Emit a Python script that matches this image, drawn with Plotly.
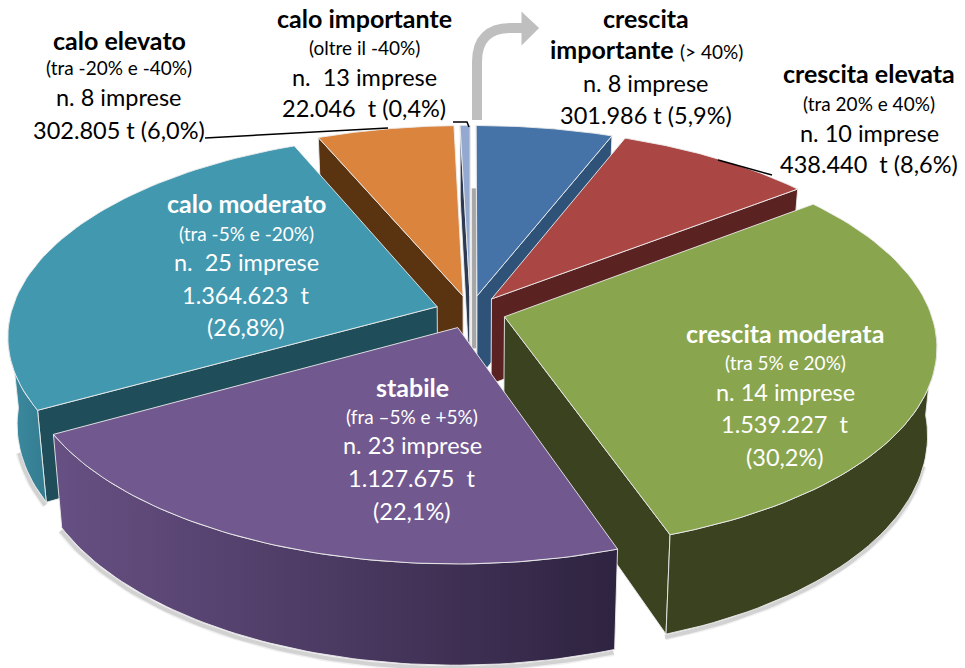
import numpy as np
import plotly.graph_objects as go

# Data (tonnes), clockwise from 12 o'clock
categories = ["crescita importante", "crescita elevata", "crescita moderata", "stabile",
              "calo moderato", "calo elevato", "calo importante"]
tonnes = [301986, 438440, 1539227, 1127675, 1364623, 302805, 22046]
label_lines = [
    ["<b>crescita</b>", "<b>importante</b> <span style='font-size:19px'>(&gt; 40%)</span>", "n. 8 imprese", "301.986 t (5,9%)"],
    ["<b>crescita elevata</b>", "(tra 20% e 40%)", "n. 10 imprese", "438.440  t (8,6%)"],
    ["<b>crescita moderata</b>", "(tra 5% e 20%)", "n. 14 imprese", "1.539.227  t", "(30,2%)"],
    ["<b>stabile</b>", "(fra –5% e +5%)", "n. 23 imprese", "1.127.675  t", "(22,1%)"],
    ["<b>calo moderato</b>", "(tra -5% e -20%)", "n.  25 imprese", "1.364.623  t", "(26,8%)"],
    ["<b>calo elevato</b>", "(tra -20% e -40%)", "n. 8 imprese", "302.805 t (6,0%)"],
    ["<b>calo importante</b>", "(oltre il -40%)", "n.  13 imprese", "22.046  t (0,4%)"],
]
top_colors = ["#4573a7", "#aa4644", "#89a54e", "#71588f", "#4198af", "#db843d", "#93a9cf"]
wall_colors = ["#2f5378", "#5a2321", "#3a4220", "#3b2c55", "#1f4d5a", "#5a3311", "#2d3a52"]
rim_colors = {2: ("#3a4220", "#3a4220"), 3: ("#675083", "#2e2340"), 4: ("#3c8ba1", "#347c90")}
text_colors = ["black", "black", "white", "white", "white", "black", "black"]
paint_order = [5, 6, 0, 1, 4, 2, 3]

# label placement: centre x and the y of each text line
label_x = [646, 869, 785, 412, 246, 119, 364]
label_y = [[18, 49, 83, 115], [73, 103, 133, 164], [333, 362, 392, 424, 457], [387, 416, 445, 478, 511],
           [203, 233, 262, 295, 327], [40, 67, 97, 130], [18, 47, 77, 108]]
BOLD, REG, SMALL = 25, 23.5, 19

# projection of the tilted disc
CX, CY, A, B, K, H, PULL = 470.5, 312, 426, 0.466, 0.14, 86, 0.083

def proj(u, v, z=0.0):
    u, v, z = np.asarray(u, float), np.asarray(v, float), np.asarray(z, float)
    s = 1 / (1 - K * v)
    return CX + A * u * s * (1 - 0.02 * z), CY + A * B * v * s + H * z * s

def poly(xs, ys, color=None, grad=None, line="rgba(235,235,235,0.9)", lw=1):
    kw = dict(fillgradient=dict(type="horizontal", colorscale=[[0, grad[0]], [1, grad[1]]])) if grad else dict(fillcolor=color)
    return go.Scatter(x=list(xs) + [xs[0]], y=list(ys) + [ys[0]], mode="lines", fill="toself",
                      line=dict(color=line, width=lw), hoverinfo="skip", showlegend=False, **kw)

fracs = np.cumsum([0] + tonnes) / sum(tonnes)
fig = go.Figure()

# soft shadow under the front rims
for i in [4, 3, 2]:
    t = np.linspace(fracs[i], fracs[i + 1], 70) * 2 * np.pi
    t = t[-np.cos(t) > 0.25]
    m = (fracs[i] + fracs[i + 1]) * np.pi
    ou, ov = PULL * np.sin(m), -PULL * np.cos(m)
    sx, sy = proj(ou + np.sin(t), ov - np.cos(t), 1.0)
    for w, al in [(7, 0.06), (4, 0.12)]:
        fig.add_trace(go.Scatter(x=sx - 1, y=sy + 3, mode="lines", line=dict(color=f"rgba(0,0,0,{al})", width=w),
                                 hoverinfo="skip", showlegend=False))

for i in paint_order:
    t0, t1 = fracs[i] * 2 * np.pi, fracs[i + 1] * 2 * np.pi
    m = (t0 + t1) / 2
    ou, ov = PULL * np.sin(m), -PULL * np.cos(m)
    t = np.linspace(t0, t1, 70)
    au, av = ou + np.sin(t), ov - np.cos(t)
    tx, ty = proj(au, av)
    ax, ay = proj(ou, ov)
    cx_, cy_ = (tx.mean() * 2 + ax) / 3, (ty.mean() * 2 + ay) / 3
    # radial walls
    for idx in (0, -1):
        ex, ey = tx[idx], ty[idx]
        cr = (ex - ax) * (cy_ - ay) - (ey - ay) * (cx_ - ax)
        visible = cr * (ex - ax) < 0
        if visible or i == 6:
            bx, by = proj(au[idx], av[idx], 1.0)
            b0x, b0y = proj(ou, ov, 1.0)
            fig.add_trace(poly([ax, ex, bx, b0x], [ay, ey, by, b0y], color=wall_colors[i]))
    if i == 6:
        # grey end wall of the thinnest slice, seen edge-on
        gx, gy = proj([0.003, 0.0165, 0.0155, 0.003], [ov - 0.6, ov - 0.6, ov, ov], [0, 0, 0.62, 0.62])
        fig.add_trace(poly(gx, gy, color="#a6a6a6", line="rgba(255,255,255,0.5)", lw=0.5))
    # outer rim
    mask = -np.cos(t) > 0.05
    if mask.sum() > 1:
        rx, ry = tx[mask], ty[mask]
        bx, by = proj(au[mask], av[mask], 1.0)
        g = rim_colors.get(i, (wall_colors[i], wall_colors[i]))
        fig.add_trace(poly(list(rx) + list(bx[::-1]), list(ry) + list(by[::-1]), grad=g))
    # top face
    fig.add_trace(poly([ax] + list(tx), [ay] + list(ty), color=top_colors[i]))

# leader lines
for xs, ys in [([205, 388], [138, 128]), ([453, 467, 469], [122, 122, 127]), ([718, 772], [160, 175])]:
    fig.add_trace(go.Scatter(x=xs, y=ys, mode="lines", line=dict(color="black", width=1.5),
                             hoverinfo="skip", showlegend=False))

for lines, x, ys, c in zip(label_lines, label_x, label_y, text_colors):
    for j, (txt, y) in enumerate(zip(lines, ys)):
        bold = txt.startswith("<b>")
        size = BOLD if bold else (SMALL if txt.startswith("(") and j == 1 else REG)
        fig.add_annotation(x=x, y=y, text=txt, showarrow=False, xanchor="center", yanchor="middle", align="center",
                           font=dict(family="Lato", size=size, color=c))

GREY = "#bfbfbf"
fig.add_shape(type="path", path="M 477 120 L 477 62 Q 477 28 511 28 L 524 28", line=dict(color=GREY, width=10), layer="above")
fig.add_shape(type="path", path="M 523 15 L 537 28 L 523 42 Z", fillcolor=GREY, line=dict(color=GREY, width=3), layer="above")

fig.update_xaxes(visible=False, range=[0, 965], fixedrange=True)
fig.update_yaxes(visible=False, range=[668, 0], fixedrange=True)
fig.update_layout(width=965, height=668, margin=dict(l=0, r=0, t=0, b=0), plot_bgcolor="white", paper_bgcolor="white",
                  showlegend=False)
fig.write_html("out.html", post_script="document.body.style.margin='0';", config=dict(displayModeBar=False))
